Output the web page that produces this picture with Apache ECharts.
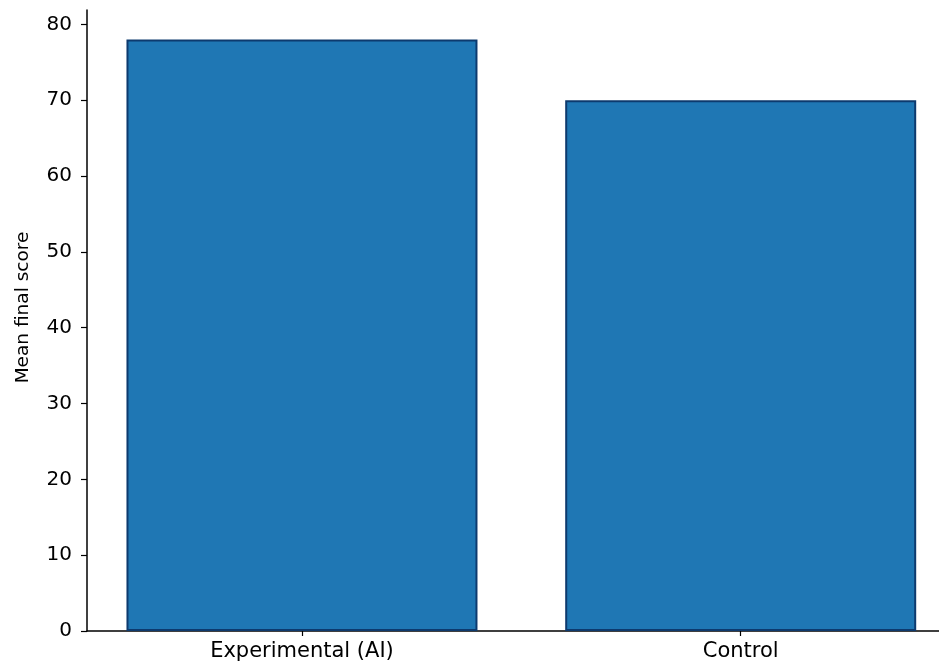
<!DOCTYPE html>
<html>
<head>
<meta charset="utf-8">
<script src="https://cdn.jsdelivr.net/npm/echarts@6/dist/echarts.min.js"></script>
<style>
  html, body { margin: 0; padding: 0; background: #ffffff; }
  #chart { width: 939px; height: 666px; }
</style>
</head>
<body>
<div id="chart"></div>
<script>
// Group means for the two study arms
const categories = ['Experimental (AI)', 'Control'];
const meanScores = [78, 70];
const yTicks = [0, 10, 20, 30, 40, 50, 60, 70, 80];
const xTicks = [0, 1];

const chart = echarts.init(document.getElementById('chart'), null, { renderer: 'canvas' });

const font = 'DejaVu Sans';
const barData = categories.map((c, i) => [i, meanScores[i]]);

chart.setOption({
  animation: false,
  backgroundColor: '#ffffff',
  grid: { left: 87, right: 0, top: 10, bottom: 35, containLabel: false },
  xAxis: {
    type: 'value',
    min: -0.49,
    max: 1.452,
    splitLine: { show: false },
    axisLine: { show: true, onZero: false, lineStyle: { color: '#000', width: 1.5 } },
    axisTick: { show: true, length: 5, lineStyle: { color: '#000', width: 1.2 }, customValues: xTicks },
    axisLabel: {
      show: true,
      customValues: xTicks,
      formatter: v => categories[Math.round(v)] || '',
      color: '#000',
      fontFamily: font,
      fontSize: 21,
      margin: 10
    }
  },
  yAxis: {
    type: 'value',
    min: 0,
    max: 81.9,
    name: 'Mean final score',
    nameLocation: 'middle',
    nameGap: 54,
    nameTextStyle: { color: '#000', fontFamily: font, fontSize: 18.5, padding: [0, 0, 0, 26] },
    splitLine: { show: false },
    axisLine: { show: true, onZero: false, lineStyle: { color: '#000', width: 1.5 } },
    axisTick: { show: true, length: 6, lineStyle: { color: '#000', width: 1.2 }, customValues: yTicks },
    axisLabel: {
      customValues: yTicks,
      color: '#000',
      fontFamily: font,
      fontSize: 20,
      margin: 15
    }
  },
  series: [{
    type: 'bar',
    data: barData,
    barWidth: 351,
    itemStyle: { color: '#1f77b4', borderColor: '#0d3a6e', borderWidth: 2 }
  }]
});
</script>
</body>
</html>
